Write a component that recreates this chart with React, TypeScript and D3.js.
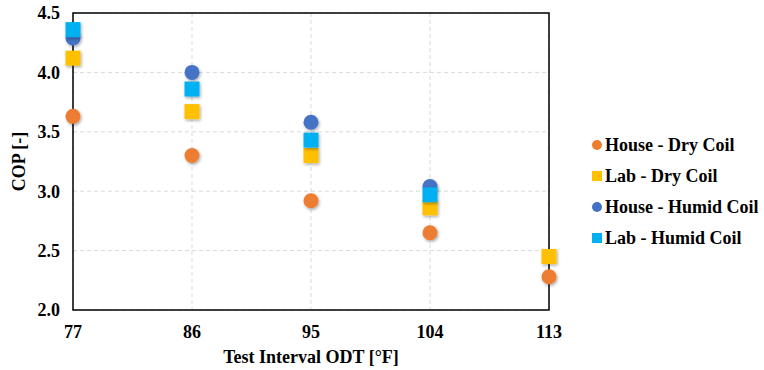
import React from "react";
import * as d3 from "d3";

const xTicks = [77, 86, 95, 104, 113];
const yTicks = [2.0, 2.5, 3.0, 3.5, 4.0, 4.5];

const houseDry = [
  { x: 77, y: 3.63 },
  { x: 86, y: 3.3 },
  { x: 95, y: 2.92 },
  { x: 104, y: 2.65 },
  { x: 113, y: 2.28 },
];
const labDry = [
  { x: 77, y: 4.12 },
  { x: 86, y: 3.67 },
  { x: 95, y: 3.3 },
  { x: 104, y: 2.86 },
  { x: 113, y: 2.45 },
];
const houseHumid = [
  { x: 77, y: 4.29 },
  { x: 86, y: 4.0 },
  { x: 95, y: 3.58 },
  { x: 104, y: 3.04 },
];
const labHumid = [
  { x: 77, y: 4.36 },
  { x: 86, y: 3.86 },
  { x: 95, y: 3.43 },
  { x: 104, y: 2.97 },
];

const series = [
  { name: "House - Dry Coil", data: houseDry, color: "#ED7D31", shape: "circle" },
  { name: "Lab - Dry Coil", data: labDry, color: "#FFC000", shape: "square" },
  { name: "House - Humid Coil", data: houseHumid, color: "#4472C4", shape: "circle" },
  { name: "Lab - Humid Coil", data: labHumid, color: "#00B0F0", shape: "square" },
];

const W = 764;
const H = 370;
const m = { left: 73, right: 549, top: 13, bottom: 310 };
const font = "Liberation Serif";

export default function App() {
  const x = d3.scaleLinear().domain([77, 113]).range([m.left, m.right]);
  const y = d3.scaleLinear().domain([2, 4.5]).range([m.bottom, m.top]);
  const ms = 15;
  return (
    <svg width={W} height={H} style={{ position: "absolute", left: 0, top: 0, background: "#fff" }}>
      <defs>
        <filter id="sh" x="-50%" y="-50%" width="200%" height="200%">
          <feDropShadow dx="1" dy="1.5" stdDeviation="1.5" floodColor="#000" floodOpacity="0.35" />
        </filter>
      </defs>
      {yTicks.map((t) => (
        <line key={"gy" + t} x1={m.left} x2={m.right} y1={y(t)} y2={y(t)} stroke="#d9d9d9" strokeDasharray="4,3" strokeWidth={1} />
      ))}
      {xTicks.map((t) => (
        <line key={"gx" + t} x1={x(t)} x2={x(t)} y1={m.top} y2={m.bottom} stroke="#d9d9d9" strokeDasharray="4,3" strokeWidth={1} />
      ))}
      <rect x={m.left} y={m.top} width={m.right - m.left} height={m.bottom - m.top} fill="none" stroke="#000" strokeWidth={1.5} />
      {series.map((s) => (
        <g key={s.name} filter="url(#sh)">
          {s.data.map((d, i) =>
            s.shape === "circle" ? (
              <circle key={i} cx={x(d.x)} cy={y(d.y)} r={ms / 2} fill={s.color} />
            ) : (
              <rect key={i} x={x(d.x) - ms / 2} y={y(d.y) - ms / 2} width={ms} height={ms} fill={s.color} />
            )
          )}
        </g>
      ))}
      {yTicks.map((t) => (
        <text key={"ty" + t} x={60} y={y(t)} dy="0.35em" textAnchor="end" fontFamily={font} fontWeight="bold" fontSize={18} fill="#000">
          {t.toFixed(1)}
        </text>
      ))}
      {xTicks.map((t) => (
        <text key={"tx" + t} x={x(t)} y={338} textAnchor="middle" fontFamily={font} fontWeight="bold" fontSize={18} fill="#000">
          {t}
        </text>
      ))}
      <text x={311} y={363} textAnchor="middle" fontFamily={font} fontWeight="bold" fontSize={18} fill="#000">
        Test Interval ODT [°F]
      </text>
      <text transform={`translate(25,${(m.top + m.bottom) / 2}) rotate(-90)`} textAnchor="middle" fontFamily={font} fontWeight="bold" fontSize={18} fill="#000">
        COP [-]
      </text>
      {series.map((s, i) => {
        const cy = 145 + i * 31;
        return (
          <g key={"lg" + s.name}>
            {s.shape === "circle" ? (
              <circle cx={597} cy={cy} r={5} fill={s.color} />
            ) : (
              <rect x={592} y={cy - 5} width={10} height={10} fill={s.color} />
            )}
            <text x={605} y={cy} dy="0.35em" fontFamily={font} fontWeight="bold" fontSize={18} fill="#000">
              {s.name}
            </text>
          </g>
        );
      })}
    </svg>
  );
}
